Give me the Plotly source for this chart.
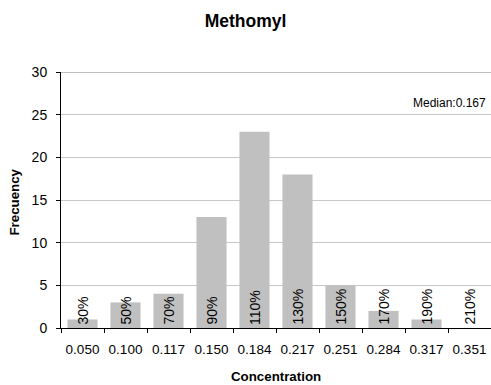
import plotly.graph_objects as go

categories = ["0.050", "0.100", "0.117", "0.150", "0.184", "0.217", "0.251", "0.284", "0.317", "0.351"]
frequency = [1, 3, 4, 13, 23, 18, 5, 2, 1, 0]
pct_labels = ["30%", "50%", "70%", "90%", "110%", "130%", "150%", "170%", "190%", "210%"]
y_ticks = [0, 5, 10, 15, 20, 25, 30]
title_text = "Methomyl"
x_title = "Concentration"
y_title = "Frecuency"
median_text = "Median:0.167"

FONT = "Liberation Sans, Arial, sans-serif"
W, H = 491, 385
ML, MR, MT, MB = 61, 0, 72, 57
PW, PH = W - ML - MR, H - MT - MB

fig = go.Figure()
fig.add_trace(go.Bar(
    x=categories, y=frequency,
    marker=dict(color="#c0c0c0", line=dict(width=0)),
    width=0.7,
    hoverinfo="skip",
))

annotations = []
for i, lab in enumerate(pct_labels):
    annotations.append(dict(
        x=i, y=0, xref="x", yref="y", text=lab, showarrow=False,
        textangle=-90, xanchor="center", yanchor="bottom", yshift=1,
        font=dict(family=FONT, size=14, color="#000000"),
    ))

annotations.append(dict(
    x=1, y=25, xref="paper", yref="y", text=median_text, showarrow=False,
    xanchor="right", yanchor="bottom", xshift=-3, yshift=3,
    font=dict(family=FONT, size=12, color="#000000"),
))
annotations.append(dict(
    x=0.5, y=0, xref="paper", yref="paper", yshift=-48,
    text="<b>" + x_title + "</b>",
    showarrow=False, xanchor="center", yanchor="middle",
    font=dict(family=FONT, size=13.3, color="#000000"),
))
annotations.append(dict(
    x=(13.5 - ML) / PW, y=(H - MB - 202) / PH, xref="paper", yref="paper",
    xanchor="center", yanchor="middle",
    text="<b>" + y_title + "</b>", showarrow=False, textangle=-90,
    font=dict(family=FONT, size=13.3, color="#000000"),
))

fig.update_layout(
    width=W, height=H,
    margin=dict(l=ML, r=MR, t=MT, b=MB),
    paper_bgcolor="white", plot_bgcolor="white",
    showlegend=False,
    title=dict(text="<b>" + title_text + "</b>", x=0.5, xref="container", xanchor="center",
               y=1 - 21 / H, yref="container", yanchor="middle",
               font=dict(family=FONT, size=17.5, color="#000000")),
    bargap=0.3,
    annotations=annotations,
    shapes=[dict(type="line", xref="paper", yref="y", x0=0, x1=1, y0=30, y1=30,
                 line=dict(color="#808080", width=1))],
)
fig.update_xaxes(
    type="category", tickson="boundaries", ticks="outside", ticklen=4, tickcolor="#000000",
    showline=True, linecolor="#000000", linewidth=1, showgrid=False,
    ticklabelstandoff=9, tickangle=0,
    tickfont=dict(family=FONT, size=13.5, color="#000000"),
)
fig.update_yaxes(
    range=[0, 30], tickvals=y_ticks, ticks="outside", ticklen=4, tickcolor="#000000",
    showline=True, linecolor="#000000", linewidth=1,
    showgrid=True, gridcolor="#c8c8c8", gridwidth=1, zeroline=False,
    ticklabelstandoff=6,
    tickfont=dict(family=FONT, size=14, color="#000000"),
)

fig.write_html("out.html", config={"displayModeBar": False},
               post_script="document.body.style.margin='0';")
